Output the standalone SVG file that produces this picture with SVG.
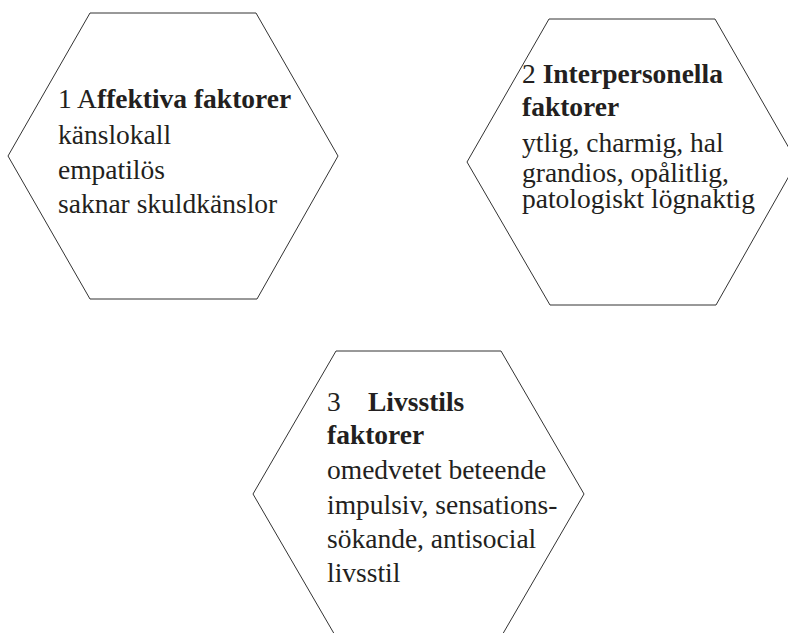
<svg xmlns="http://www.w3.org/2000/svg" width="788" height="633" viewBox="0 0 788 633">
<style>
.hex{fill:#ffffff;stroke:#333333;stroke-width:1}
.t{font-family:'Liberation Serif','Times New Roman',serif;font-size:27.5px;fill:#231f20}
.b{font-weight:bold}
</style>
<rect width="788" height="633" fill="#ffffff"/>
<g id="connectors"></g>
<g id="node1">
<polygon class="hex" points="90,13 256,13 338,156 257,299 90,299 8,156"/>
<text class="t" x="58" y="108">1 A<tspan class="b">ffektiva faktorer</tspan></text>
<text class="t" x="58" y="144">känslokall</text>
<text class="t" x="58" y="179">empatilös</text>
<text class="t" x="58" y="213">saknar skuldkänslor</text>
</g>
<g id="node2">
<polygon class="hex" points="549,19 715,19 797,162 716,305 550,305 467,162"/>
<text class="t" x="522" y="83">2 <tspan class="b">Interpersonella</tspan></text>
<text class="t b" x="522" y="116">faktorer</text>
<text class="t" x="522" y="152">ytlig, charmig, hal</text>
<text class="t" x="522" y="182">grandios, opålitlig,</text>
<text class="t" x="522" y="208">patologiskt lögnaktig</text>
</g>
<g id="node3">
<polygon class="hex" points="336,351 501,351 584,494 501,637 336,637 253,494"/>
<text class="t" x="327" y="411">3<tspan class="b" x="368">Livsstils</tspan></text>
<text class="t b" x="327" y="444">faktorer</text>
<text class="t" x="327" y="479">omedvetet beteende</text>
<text class="t" x="327" y="514">impulsiv, sensations-</text>
<text class="t" x="327" y="548">sökande, antisocial</text>
<text class="t" x="327" y="582">livsstil</text>
</g>
</svg>
